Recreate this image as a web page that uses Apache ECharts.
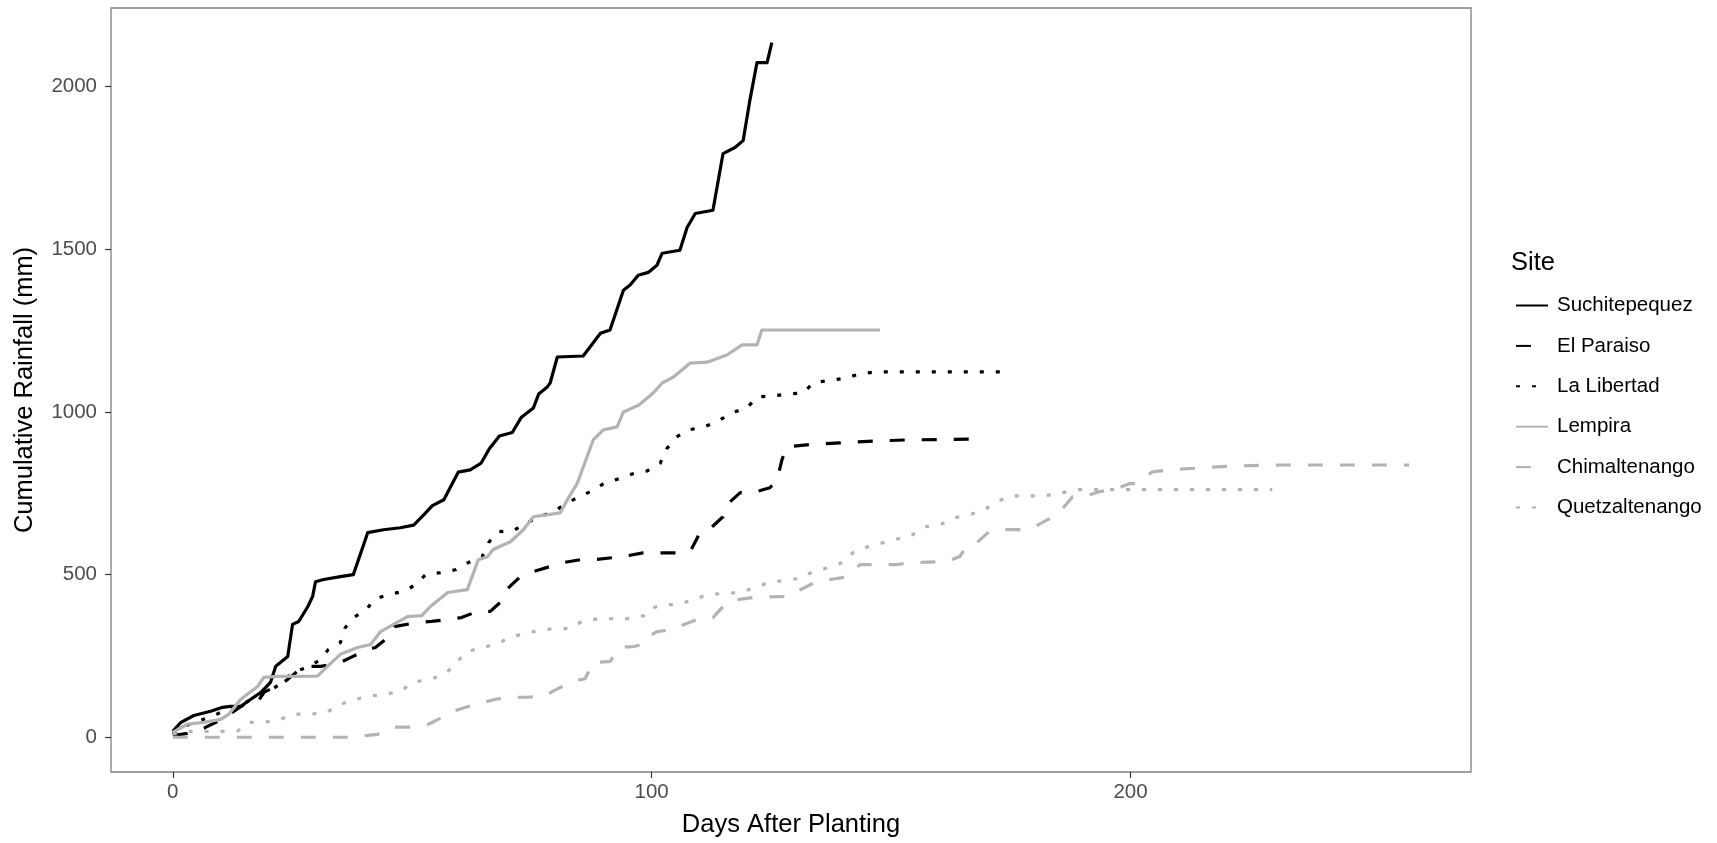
<!DOCTYPE html>
<html>
<head>
<meta charset="utf-8">
<title>Cumulative Rainfall by Site</title>
<script src="https://cdn.jsdelivr.net/npm/echarts@6/dist/echarts.min.js"></script>
<style>
  html, body { margin: 0; padding: 0; background: #ffffff; }
  #chart { width: 1717px; height: 843px; }
</style>
</head>
<body>
<div id="chart"></div>
<script>
// Site names, in legend / drawing order
const sites = ['Suchitepequez', 'El Paraiso', 'La Libertad', 'Lempira', 'Chimaltenango', 'Quetzaltenango'];

// Cumulative rainfall (mm) against days after planting: [day, mm]
const suchitepequez = [
  [0,18],[1.7,46],[4.4,67],[7.9,80],[10.4,92],[12,95],[14.2,95],[15.6,110],[18.4,138],[20.4,169],
  [21.5,218],[24,248],[25,347],[26.3,356],[28.2,402],[29.2,433],[29.8,478],[31.5,485],[35,494],[37.7,500],
  [40.7,629],[44,638],[47.5,644],[50.3,652],[52.5,685],[54.2,712],[56.6,730],[59.6,815],[62.1,822],[64.4,843],
  [66.1,887],[68.2,926],[70.9,937],[72.8,984],[75.3,1012],[76.4,1055],[78.2,1077],[78.8,1089],[80.3,1169],[85.7,1172],
  [89.3,1242],[91.3,1252],[94.1,1374],[95.5,1390],[97.2,1420],[99.3,1429],[101.1,1451],[102.2,1488],[105.9,1497],[107.4,1567],
  [109.1,1610],[112.8,1620],[114.9,1794],[117.4,1813],[119.1,1834],[120.5,1957],[122,2074],[124.1,2074],[125.1,2135]
];

const elParaiso = [
  [0,5],[3,12],[6.5,28],[9,46],[12,72],[14.8,100],[17.7,107],[19,138],[22.5,163],[24,178],
  [27.3,218],[30.9,218],[35,230],[37.1,245],[40.7,270],[42.3,276],[45.5,313],[46.3,340],[51,353],[54,356],
  [57.4,362],[60.3,368],[63.6,387],[66.3,387],[69,423],[70,458],[72.6,494],[75.3,509],[78.8,525],[81.5,537],
  [85.1,546],[88,546],[91.8,552],[94.9,558],[98.2,567],[105.9,567],[108.2,575],[110.1,629],[112.6,647],[114.9,678],
  [115.7,715],[118.5,752],[121.2,752],[124.7,767],[126.2,791],[127.2,853],[128.3,893],[132.4,899],[139.3,905],[147,911],
  [153.3,914],[168.5,917]
];

const laLibertad = [
  [0,10],[2.5,35],[5.8,52],[9,70],[12,90],[15,105],[17.5,125],[19.8,138],[22.5,165],[25,199],
  [28,215],[30.5,235],[32.5,270],[35,291],[36,337],[37.7,368],[40.3,390],[42,423],[45,439],[48.2,448],
  [50.7,469],[52.8,500],[55.9,506],[59,515],[61.7,537],[64.6,555],[65.9,598],[68,632],[71.1,635],[74,660],
  [76.5,678],[79.5,693],[82.4,721],[85,740],[87.6,758],[89.9,779],[93,794],[96.1,810],[99.1,819],[101.8,843],
  [103.1,886],[105.2,923],[107.8,945],[111,954],[113.9,972],[116.6,997],[119.9,1012],[122,1046],[125.1,1049],[128.3,1055],
  [131.6,1058],[133.8,1090],[137.2,1097],[140.4,1104],[143.5,1117],[146.6,1123],[173.5,1123]
];

const lempira = [
  [0,15],[3,40],[6.5,46],[10,55],[11.7,71],[14.2,117],[17.7,156],[19,184],[21.9,187],[30.2,188],
  [32.3,218],[35,255],[38.6,276],[41.3,285],[43.4,325],[46.1,347],[49,371],[52,374],[53.8,402],[57.4,445],
  [61.5,454],[63.8,546],[65.7,555],[66.9,577],[70.5,601],[73.2,638],[75.3,678],[80.9,690],[82.4,730],[84.5,782],
  [87.8,914],[89.9,945],[92.8,954],[94.1,1000],[97.3,1021],[99.1,1043],[100.3,1058],[102.2,1089],[104.5,1107],[108,1150],
  [111.6,1153],[115.7,1175],[118.9,1206],[122,1206],[123,1252],[147.7,1252]
];

const chimaltenango = [
  [0,0],[37.7,0],[40.7,6],[42.8,9],[46.1,31],[49.6,31],[53.4,40],[55.4,55],[58.6,80],[61.3,93],
  [64.9,107],[67.4,117],[71.5,123],[74.1,123],[77.8,128],[79.8,145],[83.6,172],[86.1,180],[87.8,230],[91.3,233],
  [93.4,276],[96.4,279],[99.1,291],[100.3,318],[101.1,325],[104.5,331],[106.5,345],[109.5,362],[112.8,368],[115.7,414],
  [117.8,423],[122,431],[128.9,433],[130.3,448],[134.5,479],[137.2,485],[139.9,491],[142,509],[143.5,531],[151.2,531],
  [154.5,537],[161.6,540],[164.3,555],[165.8,586],[167.9,598],[170.4,631],[173.3,638],[176.8,638],[179.6,644],[183.1,672],
  [185.2,693],[187.9,739],[190,739],[193.5,755],[197.1,764],[199.8,780],[201.2,780],[204.6,816],[208.1,822],[217.9,831],
  [221.3,834],[231.7,837],[258.2,837]
];

const quetzaltenango = [
  [0,10],[3,18],[10,18],[13.6,20],[15.9,46],[19,46],[22.5,55],[25.2,71],[28.8,71],[32.2,77],
  [34.7,100],[37.7,115],[41.2,127],[44.4,132],[47.5,141],[50.3,170],[53.7,178],[56.7,193],[59,224],[61.1,261],
  [64.2,275],[67.4,285],[70.1,304],[73,318],[76.1,327],[79.5,334],[83,334],[85.4,356],[88.7,364],[95.3,365],
  [98.4,374],[99.3,393],[102.4,408],[105.6,408],[108.7,423],[111.8,439],[114.9,442],[118.5,445],[121.5,460],[124.3,475],
  [127.4,482],[130.8,488],[133.7,509],[136.8,521],[139.9,537],[142,567],[145.2,586],[148.3,598],[151.4,610],[154.5,623],
  [157,647],[160.2,653],[163.3,675],[166.4,684],[169.6,700],[172,724],[175.2,742],[181.6,742],[185,748],[188.1,761],
  [198.3,761],[229.6,761]
];

// Axis tick values
const xTicks = [0, 100, 200];
const yTicks = [0, 500, 1000, 1500, 2000];

const seriesData = [suchitepequez, elParaiso, laLibertad, lempira, chimaltenango, quetzaltenango];

// Line appearance per site
const BLACK = '#000000';
const GREY = '#b3b3b3';
const DASH = [15, 17];
const DOT = [4, 12];
const styles = [
  { color: BLACK, type: 'solid' },
  { color: BLACK, type: DASH },
  { color: BLACK, type: DOT },
  { color: GREY, type: 'solid' },
  { color: GREY, type: DASH },
  { color: GREY, type: DOT }
];

// Axis extents padded 5% beyond the data range on each side
function padded(lo, hi) {
  const pad = (hi - lo) * 0.05;
  return [lo - pad, hi + pad];
}
const allPts = seriesData.flat();
const xr = padded(0, Math.max(...allPts.map(p => p[0])));
const yr = padded(0, Math.max(...allPts.map(p => p[1])));

const FONT = '"Liberation Sans", Arial, Helvetica, sans-serif';
const TICK_SIZE = 20.5;
const TITLE_SIZE = 25.5;

const chart = echarts.init(document.getElementById('chart'), null, { renderer: 'canvas' });

chart.setOption({
  animation: false,
  backgroundColor: '#ffffff',
  textStyle: { fontFamily: FONT },
  title: {
    text: 'Site',
    left: 1511,
    top: 250,
    padding: 0,
    textStyle: { fontFamily: FONT, fontSize: TITLE_SIZE, fontWeight: 'normal', color: '#000000' }
  },
  legend: {
    orient: 'vertical',
    left: 1515,
    top: 295,
    padding: 0,
    itemWidth: 32,
    itemHeight: 20,
    itemGap: 19.4,
    itemStyle: { opacity: 0 },
    textStyle: { fontFamily: FONT, fontSize: 20.5, color: '#000000', padding: [0, 0, 0, 4], lineHeight: 20 },
    data: sites
  },
  grid: {
    left: 111,
    right: 246,
    top: 8,
    bottom: 71,
    show: true,
    borderColor: '#7f7f7f',
    borderWidth: 1.3,
    backgroundColor: '#ffffff'
  },
  xAxis: {
    type: 'value',
    min: xr[0],
    max: xr[1],
    name: 'Days After Planting',
    nameLocation: 'middle',
    nameGap: 40,
    nameTextStyle: { fontFamily: FONT, fontSize: TITLE_SIZE, color: '#000000' },
    axisLine: { show: false, onZero: false },
    splitLine: { show: false },
    axisTick: { show: true, inside: false, length: 6, customValues: xTicks, lineStyle: { color: '#333333', width: 1.2 } },
    axisLabel: { show: true, margin: 10, customValues: xTicks, fontFamily: FONT, fontSize: TICK_SIZE, color: '#4d4d4d',
                 formatter: v => String(v) }
  },
  yAxis: {
    type: 'value',
    min: yr[0],
    max: yr[1],
    name: 'Cumulative Rainfall (mm)',
    nameLocation: 'middle',
    nameGap: 73,
    nameRotate: 90,
    nameTextStyle: { fontFamily: FONT, fontSize: TITLE_SIZE, color: '#000000' },
    axisLine: { show: false, onZero: false },
    splitLine: { show: false },
    axisTick: { show: true, inside: false, length: 6, customValues: yTicks, lineStyle: { color: '#333333', width: 1.2 } },
    axisLabel: { show: true, margin: 14, customValues: yTicks, fontFamily: FONT, fontSize: TICK_SIZE, color: '#4d4d4d',
                 formatter: v => String(v) }
  },
  series: sites.map((name, i) => ({
    name: name,
    type: 'line',
    data: seriesData[i],
    symbol: 'none',
    showSymbol: false,
    smooth: false,
    clip: true,
    lineStyle: { color: styles[i].color, width: 3.2, type: styles[i].type, cap: 'butt', join: 'round' },
    itemStyle: { color: styles[i].color },
    emphasis: { disabled: true }
  }))
});
</script>
</body>
</html>
